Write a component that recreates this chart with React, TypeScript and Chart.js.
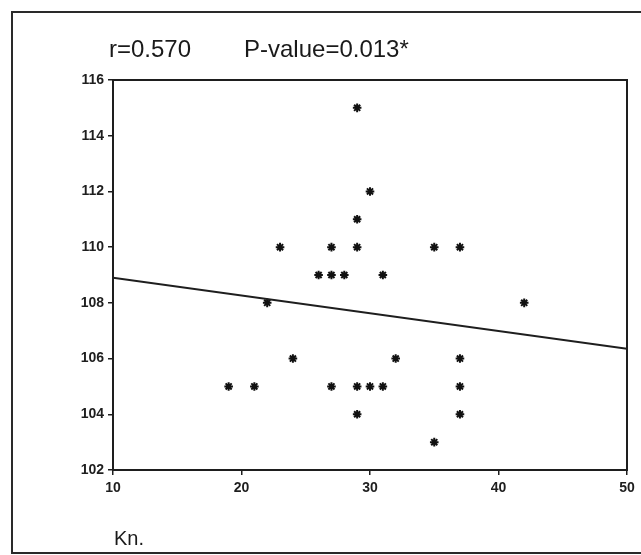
import React, { useEffect, useRef } from "react";
import { Chart, registerables } from "chart.js";

Chart.register(...registerables);

// Data
const knValues = [29, 30, 29, 23, 27, 29, 35, 37, 26, 27, 28, 31, 22, 42, 24, 32, 37, 19, 21, 27, 29, 30, 31, 37, 29, 37, 35];
const yValues = [115, 112, 111, 110, 110, 110, 110, 110, 109, 109, 109, 109, 108, 108, 106, 106, 106, 105, 105, 105, 105, 105, 105, 105, 104, 104, 103];
const fitX = [10, 50];
const fitY = [108.9, 106.35];
const xMin = 10, xMax = 50, xStep = 10;
const yMin = 102, yMax = 116, yStep = 2;
const titleParts = ["r=0.570", "P-value=0.013*"];
const xAxisLabel = "Kn.";

const tickFont = { family: "'Liberation Sans', Arial, sans-serif", size: 14, weight: "bold" as const };
const ink = "#1e1e1e";

export default function App() {
  const ref = useRef<HTMLCanvasElement | null>(null);

  useEffect(() => {
    if (!ref.current) return;
    const framePlugin = {
      id: "framePlugin",
      beforeDraw(chart: any) {
        const { ctx, width, height } = chart;
        ctx.save();
        ctx.fillStyle = "#ffffff";
        ctx.fillRect(0, 0, width, height);
        ctx.strokeStyle = "#2a2a2a";
        ctx.lineWidth = 2;
        ctx.strokeRect(12, 12, 660, 541);
        ctx.restore();
      },
      afterDraw(chart: any) {
        const { ctx, chartArea } = chart;
        ctx.save();
        ctx.strokeStyle = ink;
        ctx.lineWidth = 2;
        ctx.strokeRect(chartArea.left, chartArea.top, chartArea.right - chartArea.left, chartArea.bottom - chartArea.top);
        ctx.fillStyle = "#1a1a1a";
        ctx.textBaseline = "alphabetic";
        ctx.textAlign = "left";
        ctx.font = "24px 'Liberation Sans', Arial, sans-serif";
        ctx.fillText(titleParts[0], 109, 57);
        ctx.fillText(titleParts[1], 244, 57);
        ctx.font = "20px 'Liberation Sans', Arial, sans-serif";
        ctx.fillText(xAxisLabel, 114, 545);
        ctx.restore();
      },
    };

    const chart = new Chart(ref.current, {
      type: "scatter",
      data: {
        datasets: [
          {
            type: "line",
            data: fitX.map((x, i) => ({ x, y: fitY[i] })),
            borderColor: ink,
            borderWidth: 2,
            pointRadius: 0,
            fill: false,
          } as any,
          {
            data: knValues.map((x, i) => ({ x, y: yValues[i] })),
            pointStyle: "star",
            pointRadius: 4.3,
            borderWidth: 2,
            borderColor: "#111",
            backgroundColor: "#111",
          },
        ],
      },
      plugins: [framePlugin],
      options: {
        animation: false,
        responsive: false,
        maintainAspectRatio: false,
        layout: { padding: { top: 80, right: 14, left: 0, bottom: 0 } },
        plugins: { legend: { display: false }, tooltip: { enabled: false }, title: { display: false } },
        scales: {
          x: {
            type: "linear",
            min: xMin,
            max: xMax,
            ticks: { stepSize: xStep, font: tickFont, color: ink, padding: 5 },
            grid: { display: true, drawOnChartArea: false, drawTicks: true, tickLength: 5, color: ink, lineWidth: 1.5 },
            border: { display: true, color: ink, width: 2 },
            afterFit(axis: any) { axis.height = 85; },
          },
          y: {
            type: "linear",
            min: yMin,
            max: yMax,
            ticks: { stepSize: yStep, font: tickFont, color: ink, padding: 4 },
            grid: { display: true, drawOnChartArea: false, drawTicks: true, tickLength: 5, color: ink, lineWidth: 1.5 },
            border: { display: true, color: ink, width: 2 },
            afterFit(axis: any) { axis.width = 113; },
          },
        },
      },
    });
    return () => chart.destroy();
  }, []);

  return (
    <div style={{ position: "fixed", left: 0, top: 0, width: 641, height: 555, background: "#fff" }}>
      <canvas ref={ref} width={641} height={555} style={{ display: "block", width: 641, height: 555 }} />
    </div>
  );
}
